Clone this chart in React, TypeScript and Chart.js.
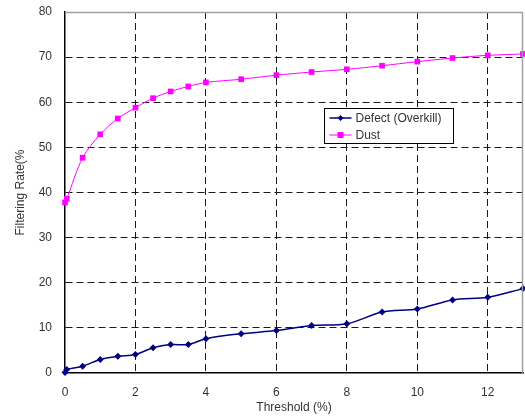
import React, { useEffect, useRef } from "react";
import Chart from "chart.js/auto";

const thresholds = [0, 0.05, 0.5, 1, 1.5, 2, 2.5, 3, 3.5, 4, 5, 6, 7, 8, 9, 10, 11, 12, 13];
const defectRates = [0.1, 0.8, 1.5, 3.0, 3.7, 4.1, 5.6, 6.3, 6.3, 7.6, 8.7, 9.4, 10.5, 10.9, 13.5, 14.2, 16.2, 16.8, 18.7];
const dustRates = [37.8, 38.6, 47.7, 52.9, 56.4, 58.8, 60.9, 62.4, 63.5, 64.4, 65.1, 66.0, 66.7, 67.3, 68.1, 69.0, 69.8, 70.4, 70.7];
const seriesNames = ["Defect (Overkill)", "Dust"];
const xTitle = "Threshold (%)";
const yTitle = "Filtering Rate(%";

const FONT = "'Liberation Sans', Arial, sans-serif";
const TEXT = "#333333";
const NAVY = "#000080";
const MAGENTA = "#FF00FF";

const framePlugin = {
  id: "frame",
  afterDatasetsDraw(chart: any) {
    const { ctx, chartArea } = chart;
    ctx.save();
    ctx.strokeStyle = "#a0a0a0";
    ctx.lineWidth = 1.5;
    ctx.beginPath();
    ctx.moveTo(chartArea.left, chartArea.top + 0.5);
    ctx.lineTo(chartArea.right, chartArea.top + 0.5);
    ctx.moveTo(chartArea.right - 0.5, chartArea.top);
    ctx.lineTo(chartArea.right - 0.5, chartArea.bottom);
    ctx.stroke();
    ctx.restore();
  },
};

const legendPlugin = {
  id: "boxLegend",
  afterDraw(chart: any) {
    const { ctx } = chart;
    const x0 = 324.5, y0 = 108.5, w = 129, h = 35;
    ctx.save();
    ctx.fillStyle = "#ffffff";
    ctx.fillRect(x0, y0, w, h);
    ctx.strokeStyle = "#000000";
    ctx.lineWidth = 1;
    ctx.strokeRect(x0, y0, w, h);
    const rows = [
      { name: seriesNames[0], color: NAVY, y: y0 + 9.5, marker: "diamond" },
      { name: seriesNames[1], color: MAGENTA, y: y0 + 26.5, marker: "square" },
    ];
    ctx.font = `12px ${FONT}`;
    ctx.textBaseline = "middle";
    ctx.textAlign = "left";
    for (const r of rows) {
      ctx.strokeStyle = r.color;
      ctx.lineWidth = r.marker === "diamond" ? 1.5 : 1;
      ctx.beginPath();
      ctx.moveTo(x0 + 5, r.y);
      ctx.lineTo(x0 + 27, r.y);
      ctx.stroke();
      ctx.fillStyle = r.color;
      const cx = x0 + 16;
      ctx.beginPath();
      if (r.marker === "diamond") {
        ctx.moveTo(cx, r.y - 3);
        ctx.lineTo(cx + 3, r.y);
        ctx.lineTo(cx, r.y + 3);
        ctx.lineTo(cx - 3, r.y);
        ctx.closePath();
      } else {
        ctx.rect(cx - 3, r.y - 3, 6, 6);
      }
      ctx.fill();
      ctx.fillStyle = TEXT;
      ctx.fillText(r.name, x0 + 31, r.y + 1);
    }
    ctx.restore();
  },
};

export default function App() {
  const ref = useRef<HTMLCanvasElement>(null);
  useEffect(() => {
    if (!ref.current) return;
    const gridColor = (c: any) => {
      const v = c.tick ? c.tick.value : null;
      return v === 0 || v === 80 || v === 13 ? "rgba(0,0,0,0)" : "#1a1a1a";
    };
    const chart = new Chart(ref.current, {
      type: "line",
      data: {
        datasets: [
          {
            label: seriesNames[0],
            data: thresholds.map((x, i) => ({ x, y: defectRates[i] })),
            borderColor: NAVY,
            backgroundColor: NAVY,
            borderWidth: 1.5,
            pointStyle: "rectRot",
            pointRadius: 3.5,
            pointBorderWidth: 0,
            tension: 0.3,
            clip: false,
          },
          {
            label: seriesNames[1],
            data: thresholds.map((x, i) => ({ x, y: dustRates[i] })),
            borderColor: MAGENTA,
            backgroundColor: MAGENTA,
            borderWidth: 1,
            pointStyle: "rect",
            pointRadius: 4,
            pointBorderWidth: 0,
            tension: 0.3,
            clip: false,
          },
        ],
      },
      options: {
        responsive: false,
        animation: false,
        layout: { autoPadding: false, padding: { left: 0, top: 12, right: 2, bottom: 0 } },
        plugins: { legend: { display: false }, tooltip: { enabled: false } },
        scales: {
          x: {
            type: "linear",
            min: 0,
            max: 13,
            afterFit: (s: any) => {
              s.height = 44;
              s.paddingLeft = 0;
              s.paddingRight = 0;
            },
            ticks: {
              stepSize: 2,
              includeBounds: false,
              padding: 12,
              color: TEXT,
              font: { family: FONT, size: 12 },
              maxRotation: 0,
            },
            grid: { color: gridColor, lineWidth: 1, drawTicks: false },
            border: { display: true, color: "#000000", width: 1.5, dash: [7, 4] },
            title: {
              display: true,
              text: xTitle,
              color: TEXT,
              font: { family: FONT, size: 12 },
              padding: { top: 0, bottom: 2 },
            },
          },
          y: {
            min: 0,
            max: 80,
            afterFit: (s: any) => {
              s.width = 65;
              s.paddingTop = 0;
              s.paddingBottom = 0;
            },
            ticks: {
              stepSize: 10,
              padding: 13,
              color: TEXT,
              font: { family: FONT, size: 12 },
            },
            grid: { color: gridColor, lineWidth: 1, drawTicks: false },
            border: { display: true, color: "#000000", width: 1.5, dash: [7, 4] },
            title: {
              display: true,
              text: yTitle,
              color: TEXT,
              font: { family: FONT, size: 12 },
              padding: { top: 13, bottom: 0 },
            },
          },
        },
      },
      plugins: [framePlugin, legendPlugin],
    });
    return () => chart.destroy();
  }, []);
  return (
    <div style={{ position: "absolute", left: 0, top: 0, width: 525, height: 417, background: "#fff" }}>
      <canvas ref={ref} width={525} height={417} />
    </div>
  );
}
